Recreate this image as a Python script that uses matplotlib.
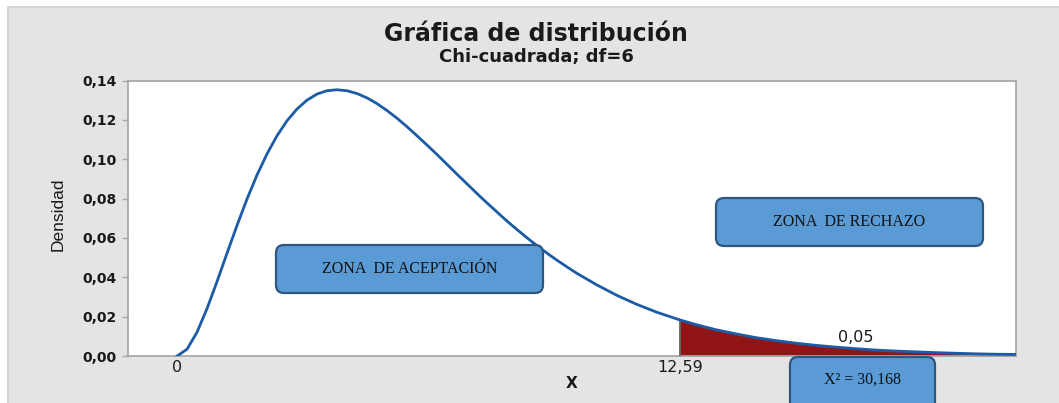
import matplotlib
matplotlib.use("Agg")
import matplotlib.pyplot as plt
from matplotlib.patches import FancyBboxPatch, Rectangle
from matplotlib.transforms import IdentityTransform

# Chi-square density (df=6): quarter steps up to 10, half steps after
x_vals = [0, 0.25, 0.5, 0.75, 1, 1.25, 1.5, 1.75, 2, 2.25, 2.5, 2.75, 3,
          3.25, 3.5, 3.75, 4, 4.25, 4.5, 4.75, 5, 5.25, 5.5, 5.75, 6, 6.25,
          6.5, 6.75, 7, 7.25, 7.5, 7.75, 8, 8.25, 8.5, 8.75, 9, 9.25, 9.5,
          9.75, 10, 10.5, 11, 11.5, 12, 12.5, 12.59, 13, 13.5, 14, 14.5, 15,
          15.5, 16, 16.5, 17, 17.5, 18, 18.5, 19, 19.5, 20, 20.5, 21]
dens = [0.0, 0.0035, 0.0122, 0.0242, 0.0379, 0.0523, 0.0664, 0.0798, 0.0920,
        0.1027, 0.1119, 0.1195, 0.1255, 0.1300, 0.1331, 0.1348, 0.1353,
        0.1348, 0.1334, 0.1312, 0.1283, 0.1248, 0.1209, 0.1166, 0.1120,
        0.1073, 0.1025, 0.0975, 0.0925, 0.0876, 0.0827, 0.0779, 0.0733,
        0.0687, 0.0644, 0.0602, 0.0562, 0.0524, 0.0488, 0.0454, 0.0421,
        0.0362, 0.0309, 0.0263, 0.0223, 0.0189, 0.0183, 0.0159, 0.0133,
        0.0112, 0.0093, 0.0078, 0.0065, 0.0054, 0.0045, 0.0037, 0.0030,
        0.0025, 0.0021, 0.0017, 0.0014, 0.0011, 0.0009, 0.0008]

critical = 12.59
alpha_label = "0,05"
chi_stat = "X² = 30,168"

yticks = [0.00, 0.02, 0.04, 0.06, 0.08, 0.10, 0.12, 0.14]
ytick_labels = ["0,00", "0,02", "0,04", "0,06", "0,08", "0,10", "0,12", "0,14"]
xticks = [0, critical]
xtick_labels = ["0", "12,59"]

W, H = 1059, 403
fig = plt.figure(figsize=(W / 100, H / 100), dpi=100, facecolor="white")

# grey background panel behind everything
panel = Rectangle((8, -20), W + 20, H - 7 + 20, transform=IdentityTransform(),
                  facecolor="#e4e4e4", edgecolor="#cfcfcf", linewidth=1.2,
                  zorder=-5)
fig.add_artist(panel)

ax = fig.add_axes([128 / W, 1 - 356 / H, (1016 - 128) / W, (356 - 80.5) / H])
ax.set_facecolor("white")
ax.set_xlim(-1.23, 21.0)
ax.set_ylim(0, 0.14)

# rejection region
tail_x = [x for x in x_vals if x >= critical]
tail_y = [d for x, d in zip(x_vals, dens) if x >= critical]
ax.fill_between(tail_x, 0, tail_y, color="#921515", linewidth=0, zorder=2)
ax.plot([critical, critical], [0, tail_y[0]], color="#555555", lw=1.2, zorder=3)

ax.plot(x_vals, dens, color="#1c5ba6", lw=2.0, zorder=4, solid_joinstyle="round")

for side in ["top", "right", "left", "bottom"]:
    ax.spines[side].set_color("#a8a8a8")
    ax.spines[side].set_linewidth(1.3)

ax.set_yticks(yticks)
ax.set_yticklabels(ytick_labels, fontsize=10, fontweight="bold", color="#1a1a1a")
ax.tick_params(axis="y", length=4, width=1, color="#a8a8a8", pad=4)
ax.set_xticks(xticks)
ax.set_xticklabels(xtick_labels, fontsize=11.5, color="#1a1a1a")
ax.tick_params(axis="x", length=0, pad=3)

ax.text(17.0, 0.0095, alpha_label, fontsize=11.5, ha="center", va="center",
        color="#1a1a1a")

fig.text(536 / W, 1 - 34 / H, "Gráfica de distribución", fontsize=17,
         fontweight="bold", ha="center", va="center", color="#1a1a1a")
fig.text(536 / W, 1 - 57 / H, "Chi-cuadrada; df=6", fontsize=13,
         fontweight="bold", ha="center", va="center", color="#1a1a1a")
fig.text(58 / W, 1 - 214 / H, "Densidad", fontsize=12.5, rotation=90,
         ha="center", va="center", color="#1a1a1a", family="Liberation Sans")
fig.text(572 / W, 1 - 383 / H, "X", fontsize=11, fontweight="bold",
         ha="center", va="center", color="#1a1a1a")


def zone_box(x0, y0, x1, y1, label):
    # rounded label box given in image pixels (top-left origin)
    box = FancyBboxPatch((x0, H - y1), x1 - x0, y1 - y0,
                         boxstyle="round,pad=0,rounding_size=8",
                         transform=IdentityTransform(), facecolor="#5b9bd5",
                         edgecolor="#2f5581", linewidth=1.6, zorder=10)
    fig.add_artist(box)
    fig.text((x0 + x1) / 2 / W, 1 - (y0 + y1) / 2 / H, label,
             family="Liberation Serif", fontsize=11.5, ha="center",
             va="center", color="#111111", zorder=11)


zone_box(276, 245, 543, 293, "ZONA  DE ACEPTACIÓN")
zone_box(716, 198, 983, 246, "ZONA  DE RECHAZO")
box = FancyBboxPatch((790, -20), 145, H - 357 + 20,
                     boxstyle="round,pad=0,rounding_size=8",
                     transform=IdentityTransform(), facecolor="#5b9bd5",
                     edgecolor="#2f5581", linewidth=1.6, zorder=10)
fig.add_artist(box)
fig.text(862 / W, 1 - 380 / H, chi_stat, family="Liberation Serif",
         fontsize=11.5, ha="center", va="center", color="#111111", zorder=11)

fig.savefig("out.png", dpi=100, facecolor=fig.get_facecolor())
